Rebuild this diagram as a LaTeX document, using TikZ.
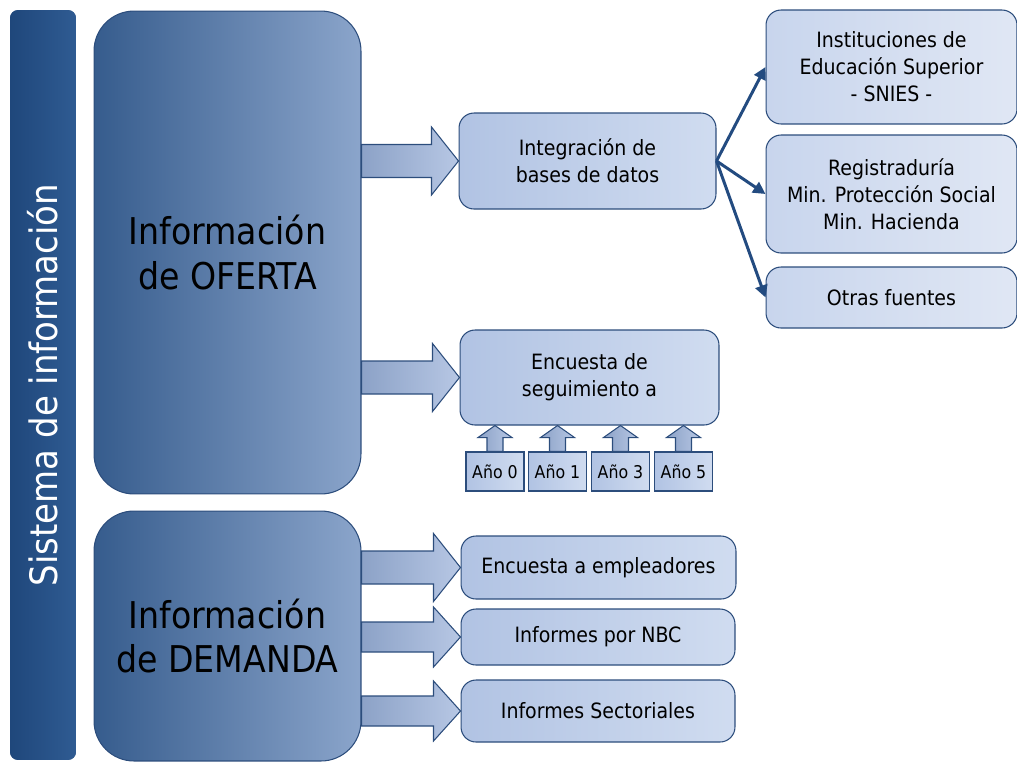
\documentclass[tikz,border=0pt]{standalone}
\usepackage{fontspec}
\setmainfont{DejaVu Sans Condensed}
\usetikzlibrary{calc,arrows.meta}

\definecolor{bardark}{HTML}{1F477B}
\definecolor{barlight}{HTML}{2F5B92}
\definecolor{bigleft}{HTML}{365C8D}
\definecolor{bigright}{HTML}{8BA5CB}
\definecolor{boxleft}{HTML}{B1C3E3}
\definecolor{boxright}{HTML}{D0DCF0}
\definecolor{srcleft}{HTML}{C8D5ED}
\definecolor{srcright}{HTML}{E0E7F4}
\definecolor{arrleft}{HTML}{8CA2C7}
\definecolor{arrright}{HTML}{B7C7E4}
\definecolor{edge}{HTML}{2C4D7C}
\definecolor{linkblue}{HTML}{234B80}

% block arrow: start, tip, shaft half, head half, head length
\newcommand\blockarrow[5]{%
  \shade[arrowfill] ($(#1)+(0,-#3)$) -- ($(#2)+(-#5,-#3)$) -- ($(#2)+(-#5,-#4)$)
  -- (#2) -- ($(#2)+(-#5,#4)$) -- ($(#2)+(-#5,#3)$) -- ($(#1)+(0,#3)$) -- cycle;}
% upward block arrow: start, tip
\newcommand\upblockarrow[2]{%
  \shade[arrowfill] ($(#1)+(-8,0)$) -- ($(#2)+(-8,12)$) -- ($(#2)+(-17,12)$)
  -- (#2) -- ($(#2)+(17,12)$) -- ($(#2)+(8,12)$) -- ($(#1)+(8,0)$) -- cycle;}

\begin{document}
\begin{tikzpicture}[x=0.02cm,y=-0.02cm,line width=0.6pt,
  bigbox/.style={draw=edge,left color=bigleft,right color=bigright,rounded corners=0.8cm,
    align=center,inner sep=0pt,font=\fontsize{21}{25.5}\selectfont},
  itembox/.style={draw=edge,left color=boxleft,right color=boxright,rounded corners=0.3cm,
    align=center,inner sep=0pt,font=\fontsize{12}{15.3}\selectfont},
  srcbox/.style={draw=edge,left color=srcleft,right color=srcright,rounded corners=0.3cm,
    align=center,inner sep=0pt,font=\fontsize{12}{15.3}\selectfont},
  yearbox/.style={draw=edge,left color=boxleft,right color=boxright,minimum width=1.16cm,
    minimum height=0.78cm,inner sep=0pt,font=\fontsize{10}{12}\selectfont},
  arrowfill/.style={draw=edge,left color=arrleft,right color=arrright},
  link/.style={draw=linkblue,line width=1.7pt,-{Triangle[length=7pt,width=7pt]}}]
  \useasboundingbox (0,0) rectangle (1017,762);

  % side bar
  \node[fill=bardark,left color=bardark,right color=barlight,rounded corners=0.16cm,
    minimum width=1.32cm,minimum height=15cm] (bar) at (43,385) {};
  \node[rotate=90,text=white,font=\fontsize{21.5}{24}\selectfont] (bartext) at (bar.center)
    {Sistema de información};

  % main blocks
  \node[bigbox,minimum width=5.34cm,minimum height=9.66cm] (oferta) at (227.5,252.5)
    {Información\\de OFERTA};
  \node[bigbox,minimum width=5.34cm,minimum height=5cm] (demanda) at (227.5,636)
    {Información\\de DEMANDA};

  % supply side
  \node[itembox,minimum width=5.14cm,minimum height=1.92cm] (integ) at (587.5,161)
    {Integración de\\bases de datos};
  \node[itembox,minimum width=5.18cm,minimum height=1.9cm] (encuesta) at (589.5,377.5)
    {Encuesta de\\seguimiento a};
  \node[yearbox] (y0) at (495,471.5) {Año 0};
  \node[yearbox] (y1) at (557.5,471.5) {Año 1};
  \node[yearbox] (y3) at (620.5,471.5) {Año 3};
  \node[yearbox] (y5) at (683.5,471.5) {Año 5};

  % data sources
  \node[srcbox,minimum width=5.02cm,minimum height=2.28cm] (inst) at (891.5,67)
    {Instituciones de\\Educación Superior\\- SNIES -};
  \node[srcbox,minimum width=5.02cm,minimum height=2.36cm] (regis) at (891.5,194)
    {Registraduría\\Min. Protección Social\\Min. Hacienda};
  \node[srcbox,minimum width=5.02cm,minimum height=1.22cm] (otras) at (891.5,297.5)
    {Otras fuentes};

  % demand side
  \node[itembox,minimum width=5.5cm,minimum height=1.26cm] (emple) at (598.5,567.5)
    {Encuesta a empleadores};
  \node[itembox,minimum width=5.48cm,minimum height=1.12cm] (nbc) at (598,637)
    {Informes por NBC};
  \node[itembox,minimum width=5.48cm,minimum height=1.24cm] (sect) at (598,711)
    {Informes Sectoriales};

  % block arrows
  \coordinate (a1) at (oferta.east |- integ.west);
  \coordinate (a2) at (oferta.east |- encuesta.west);
  \coordinate (b1) at (demanda.east |- emple.west);
  \coordinate (b2) at (demanda.east |- nbc.west);
  \coordinate (b3) at (demanda.east |- sect.west);
  \blockarrow{a1}{integ.west}{16.5}{34}{27}
  \blockarrow{a2}{encuesta.west}{16.5}{34}{27}
  \blockarrow{b1}{emple.west}{16.5}{34}{27}
  \blockarrow{b2}{nbc.west}{15}{30}{27}
  \blockarrow{b3}{sect.west}{15}{30}{27}

  \foreach \y in {y0,y1,y3,y5}{
    \coordinate (\y tip) at (\y.north |- encuesta.south);
    \upblockarrow{\y.north}{\y tip}
  }

  % links to sources
  \draw[link] (integ.east) -- (inst.west);
  \draw[link] (integ.east) -- (regis.west);
  \draw[link] (integ.east) -- (otras.west);
\end{tikzpicture}
\end{document}
